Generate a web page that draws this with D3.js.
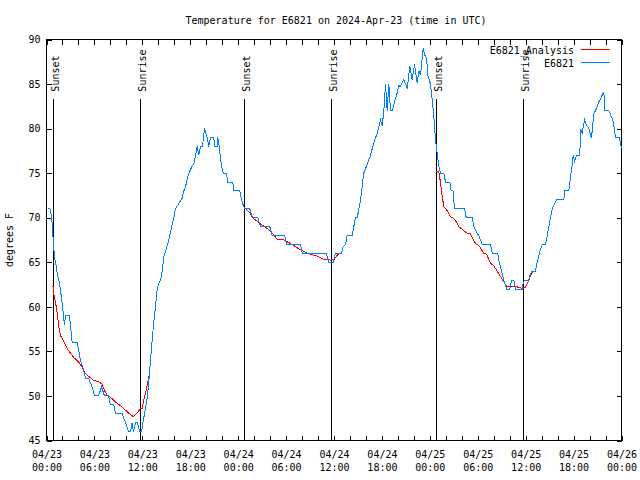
<!DOCTYPE html>
<html><head><meta charset="utf-8">
<script src="https://cdn.jsdelivr.net/npm/d3@7"></script>
<style>
body{margin:0;background:#fff;}
svg{display:block;}
text{font-family:"DejaVu Sans Mono",monospace;font-size:10px;fill:#000;}
</style></head><body>
<svg id="chart" width="640" height="480"></svg>
<script>
const title = "Temperature for E6821 on 2024-Apr-23 (time in UTC)";
const yLabel = "degrees F";
const seriesNames = ["E6821_Analysis", "E6821"];
const seriesColors = ["#ff0000", "#0080ff"];
const yTicks = [45, 50, 55, 60, 65, 70, 75, 80, 85, 90];
const yDomain = [45, 90];
const startDate = Date.UTC(2024, 3, 23);
const endDate = Date.UTC(2024, 3, 26);
const sunsetHours = [0.91, 24.83, 48.87];
const sunriseHours = [11.81, 35.73, 59.77];

// observed E6821 [hours since 04/23 00:00 UTC, degrees F]
const observed = [[0.19,71],[0.44,71],[0.56,70.5],[0.71,69.4],[0.88,67],[1.00,65.6],[1.13,65],[1.34,63.8],[1.54,63],[1.69,62.2],[1.97,60.4],[2.13,59],[2.25,58],[2.38,59],[2.88,59],[3.22,56],[3.84,56],[4.26,54],[4.63,53],[4.88,52],[5.26,52],[5.72,51],[6.01,50],[6.51,50],[6.89,51],[7.26,50],[7.76,50],[8.01,49],[8.43,49],[8.64,48],[9.48,48],[9.89,47],[10.27,46],[10.52,46],[10.71,47],[10.89,46],[11.14,47],[11.40,47],[11.65,46],[11.90,46],[12.08,47],[12.27,48],[12.46,49],[12.65,50],[12.84,52],[13.02,54],[13.21,56],[13.40,58],[13.65,60],[13.86,62],[14.06,62.6],[14.28,63],[14.49,64],[14.69,65.6],[14.90,66.2],[15.31,67.5],[15.53,68.4],[15.94,70],[16.15,71],[16.57,71.6],[16.99,72.2],[17.19,73],[17.41,73.5],[17.62,74.3],[17.82,75],[18.24,75.8],[18.44,76],[18.66,77],[18.87,78],[19.07,77],[19.28,78],[19.53,78],[19.78,80],[20.12,79],[20.32,78],[20.54,79],[20.95,79],[21.04,78],[21.38,78],[21.45,79],[21.58,78.4],[21.70,77.4],[21.88,76],[22.13,75],[22.54,75],[22.70,74],[23.33,74],[23.45,73],[24.21,73],[24.29,72.6],[24.63,71.4],[24.83,71],[25.46,71],[25.76,70],[26.46,70],[26.80,69],[27.96,69],[28.26,68],[29.84,68],[30.05,67],[31.81,67],[32.02,66],[35.02,66],[35.35,65],[35.90,65],[36.19,66],[36.90,66],[37.15,66.75],[37.44,67],[37.65,68],[38.28,68],[38.48,69],[38.69,70],[38.91,70],[39.11,71],[39.32,72],[39.73,75],[40.16,76],[40.57,77],[40.98,78.4],[41.41,79.5],[41.82,81],[42.04,80.3],[42.24,82],[42.45,85],[42.66,82],[42.86,85],[43.08,82],[43.29,82],[43.70,83.4],[43.91,84],[44.12,84.8],[44.33,84.75],[44.74,85.5],[45.17,84.5],[45.49,87],[45.79,85.5],[46.08,87.2],[46.42,85.1],[46.62,86.5],[46.83,86],[47.17,89],[47.33,88.3],[47.58,88],[47.75,86],[48.08,85],[48.30,83.25],[48.50,81.4],[48.71,78.75],[48.92,77.25],[49.12,75.75],[49.34,75],[49.75,75],[49.96,74],[50.50,74],[50.68,73],[50.90,73],[51.00,72],[51.09,71],[52.34,71],[52.56,70],[53.31,70],[53.51,69],[53.93,68.25],[54.13,68],[54.56,67],[55.60,67],[55.81,66],[56.51,66],[56.69,65],[56.98,64],[57.26,63],[57.60,62],[58.02,62],[58.23,63],[58.52,63],[58.73,62],[59.57,62],[59.69,62.7],[59.86,63],[60.39,63],[60.61,63.75],[60.82,64],[61.23,64],[61.44,65],[61.65,65.8],[61.86,66.4],[62.07,67],[62.49,67],[62.70,68],[62.90,69],[63.32,71],[63.86,72],[64.78,72],[64.90,73],[65.40,73],[65.62,74.6],[65.83,76],[65.95,77],[66.12,76.3],[66.37,77],[66.78,77],[66.87,80],[67.08,79.5],[67.37,81],[67.62,80.4],[67.91,80],[68.21,79],[68.33,79.7],[68.54,81.75],[68.75,82],[69.16,83],[69.37,83.25],[69.59,83.8],[69.79,84.1],[69.91,82],[70.41,82],[70.62,81.6],[70.96,80.8],[71.25,79],[71.75,79],[71.88,78.2],[72.00,77.8]];

// E6821_Analysis, three night segments
const analysisNight1 = [[0.75,62.3],[0.91,62.3],[0.94,61.3],[1.13,60.5],[1.34,59.3],[1.54,57.75],[1.75,56.8],[2.17,56.06],[2.59,55.3],[3.01,54.8],[3.42,54.3],[4.04,53.8],[4.47,53.2],[4.88,52.5],[5.42,52.1],[5.92,51.75],[6.55,51.6],[6.97,51.3],[7.26,50.6],[7.60,50.1],[8.23,49.7],[8.64,49.3],[9.27,48.9],[9.89,48.4],[10.52,47.9],[10.86,47.7],[11.36,48.1],[11.77,48.6],[11.98,48.6],[12.18,49.5],[12.48,50.6],[12.74,51.75],[12.90,52.6]];
const analysisNight2 = [[24.71,71.25],[25.33,70.7],[25.96,69.9],[26.80,69.3],[27.64,68.8],[28.26,68.25],[28.89,67.6],[29.71,67.5],[30.55,67.1],[31.81,66.4],[32.65,66.0],[33.90,65.7],[34.72,65.3],[35.56,65.25],[35.98,65.3],[36.40,65.8],[36.82,66.07]];
const analysisNight3 = [[48.71,75.2],[49.12,75.2],[49.34,73.9],[49.55,72.4],[49.75,71.25],[50.18,70.8],[50.59,70.1],[51.00,69.9],[51.43,69.4],[51.63,69],[52.05,68.7],[52.68,68.25],[53.09,68.2],[53.72,67.1],[54.13,66.9],[54.76,66],[55.10,65.9],[55.60,64.9],[56.01,64.6],[56.85,63.4],[57.26,62.8],[57.60,62.3],[58.52,62.3],[59.14,62.2],[59.57,62.06],[59.98,62.2],[60.39,63],[60.82,63.9],[61.02,64]];

const svg = d3.select("#chart");
const toDate = h => new Date(startDate + h * 3600e3);
const x = d3.scaleUtc().domain([new Date(startDate), new Date(endDate)]).range([46.5, 621.5]);
const y = d3.scaleLinear().domain(yDomain).range([440.5, 39.5]);
const X0 = 46.5, X1 = 621.5, Y0 = 440.5, Y1 = 39.5;

const majorTicks = d3.utcHour.every(6).range(new Date(startDate), new Date(endDate + 1));
const minorTicks = d3.utcHour.every(2).range(new Date(startDate), new Date(endDate + 1))
  .filter(d => d.getUTCHours() % 6 !== 0);

// axes
const gB = svg.append("g").attr("transform", `translate(0,${Y0})`)
  .call(d3.axisBottom(x).tickValues(majorTicks).tickSize(-5).tickSizeOuter(0));
svg.append("g").attr("transform", `translate(0,${Y0})`)
  .call(d3.axisBottom(x).tickValues(minorTicks).tickSize(-5).tickSizeOuter(0).tickFormat(""));
svg.append("g").attr("transform", `translate(0,${Y1})`)
  .call(d3.axisTop(x).tickValues(majorTicks.concat(minorTicks)).tickSize(-5).tickSizeOuter(0).tickFormat(""));
const gL = svg.append("g").attr("transform", `translate(${X0},0)`)
  .call(d3.axisLeft(y).tickValues(yTicks).tickSize(-5).tickSizeOuter(0).tickPadding(6));
svg.append("g").attr("transform", `translate(${X1},0)`)
  .call(d3.axisRight(y).tickValues(yTicks).tickSize(-5).tickSizeOuter(0).tickFormat(""));
svg.selectAll(".domain").remove();
svg.selectAll(".tick line").attr("stroke", "#000").attr("shape-rendering", "crispEdges");
svg.selectAll(".tick text").attr("font-family", null).attr("font-size", null);

const fmtD = d3.utcFormat("%m/%d"), fmtT = d3.utcFormat("%H:%M");
gB.selectAll(".tick text").each(function(d) {
  const t = d3.select(this);
  t.text(null).attr("dy", null).attr("y", null);
  t.append("tspan").attr("x", 0).attr("y", 17.5).text(fmtD(d));
  t.append("tspan").attr("x", 0).attr("y", 30.5).text(fmtT(d));
});

// frame
svg.append("rect").attr("x", X0).attr("y", Y1).attr("width", X1 - X0).attr("height", Y0 - Y1)
  .attr("fill", "none").attr("stroke", "#000").attr("shape-rendering", "crispEdges");

// sunrise / sunset markers
const evTop = y(yDomain[0] + 0.8525 * (yDomain[1] - yDomain[0]));
const evLab = y(yDomain[0] + 0.87 * (yDomain[1] - yDomain[0]));
const events = sunsetHours.map(h => ({h, name: "Sunset"})).concat(sunriseHours.map(h => ({h, name: "Sunrise"})));
events.forEach(e => {
  const xx = x(toDate(e.h));
  svg.append("line").attr("x1", xx).attr("x2", xx).attr("y1", evTop).attr("y2", Y0)
    .attr("stroke", "#000").attr("shape-rendering", "crispEdges");
  svg.append("text").attr("transform", `translate(${xx + 5},${evLab}) rotate(-90)`).text(e.name);
});

// data lines
const line = d3.line().x(d => x(toDate(d[0]))).y(d => y(d[1]));
[analysisNight1, analysisNight2, analysisNight3].forEach(seg => {
  svg.append("path").datum(seg).attr("d", line).attr("fill", "none")
    .attr("stroke", seriesColors[0]).attr("stroke-width", 1).attr("shape-rendering", "crispEdges");
});
svg.append("path").datum(observed).attr("d", line).attr("fill", "none")
  .attr("stroke", seriesColors[1]).attr("stroke-width", 1).attr("shape-rendering", "crispEdges");

// title and labels
svg.append("text").attr("x", 336).attr("y", 24).attr("text-anchor", "middle").text(title);
svg.append("text").attr("transform", "translate(13,240) rotate(-90)").attr("text-anchor", "middle").text(yLabel);

// legend
seriesNames.forEach((n, i) => {
  const ly = 49.5 + i * 13;
  svg.append("text").attr("x", 574).attr("y", ly + 4.5).attr("text-anchor", "end").text(n);
  svg.append("line").attr("x1", 581).attr("x2", 610).attr("y1", ly).attr("y2", ly)
    .attr("stroke", seriesColors[i]).attr("shape-rendering", "crispEdges");
});
</script>
</body></html>
